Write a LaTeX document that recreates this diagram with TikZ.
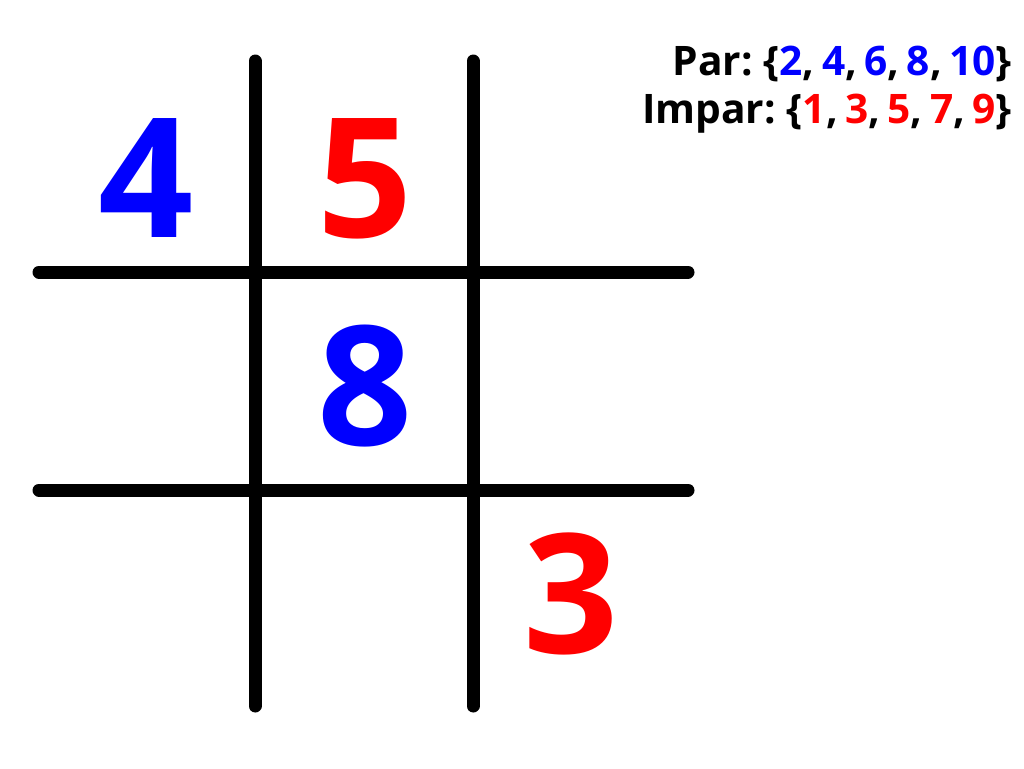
\documentclass[tikz,border=0pt]{standalone}
\usepackage{fontspec}
\setmainfont{Open Sans}[BoldFont={* Bold}]
\newfontfamily\setsfont{Open Sans Bold}[WordSpace=0.7]
\definecolor{evenblue}{RGB}{0,0,255}
\definecolor{oddred}{RGB}{255,0,0}

\begin{document}
\begin{tikzpicture}[x=0.75pt, y=-0.75pt,
    gridline/.style={line width=9.75pt, line cap=round},
    digit/.style={anchor=base, inner sep=0pt, font=\fontsize{125}{125}\selectfont\bfseries},
    settext/.style={anchor=base east, inner sep=0pt, font=\setsfont\fontsize{30.5}{30.5}\selectfont}]

    \useasboundingbox (0, 0) rectangle (1024, 768);

    \draw[gridline] (255, 61) -- (255, 706);
    \draw[gridline] (473, 61) -- (473, 706);
    \draw[gridline] (39, 272) -- (688, 272);
    \draw[gridline] (39, 490) -- (688, 490);

    \node[digit, evenblue] (four) at (146, 237) {4};
    \node[digit, oddred] (five) at (365, 237) {5};
    \node[digit, evenblue] (eight) at (365, 445) {8};
    \node[digit, oddred] (three) at (571, 653) {3};

    \node[settext] (par) at (1012, 75) {Par: \{\textcolor{evenblue}{2}, \textcolor{evenblue}{4}, \textcolor{evenblue}{6}, \textcolor{evenblue}{8}, \textcolor{evenblue}{10}\}};
    \node[settext] (impar) at (1012, 123) {Impar: \{\textcolor{oddred}{1}, \textcolor{oddred}{3}, \textcolor{oddred}{5}, \textcolor{oddred}{7}, \textcolor{oddred}{9}\}};

\end{tikzpicture}
\end{document}
